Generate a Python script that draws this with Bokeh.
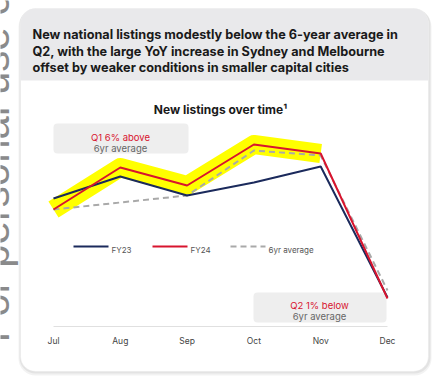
from bokeh.plotting import figure
from bokeh.models import Range1d, BoxAnnotation
from bokeh.embed import file_html
from bokeh.resources import INLINE
from bokeh.core.properties import value

# ---- data ----
months = ["Jul", "Aug", "Sep", "Oct", "Nov", "Dec"]
fy23 = [52.0, 57.5, 52.75, 56.0, 60.0, 27.25]
fy24 = [49.25, 59.75, 55.25, 65.5, 63.25, 27.0]
avg6 = [49.25, 51.0, 52.75, 64.0, 62.75, 29.0]
highlight_n = 5  # Jul..Nov of FY24 highlighted
series_names = ["FY23", "FY24", "6yr average"]
header_lines = [
    "New national listings modestly below the 6-year average in",
    "Q2, with the large YoY increase in Sydney and Melbourne",
    "offset by weaker conditions in smaller capital cities",
]
chart_title = "New listings over time\u00b9"
note_q1 = ["Q1 6% above", "6yr average"]
note_q2 = ["Q2 1% below", "6yr average"]
watermark = "For personal use only"

NAVY = "#1b2a5c"
RED = "#d8142e"
GREY = "#a9a9a9"
FONT = "Inter"

idx = list(range(len(months)))

W, H = 433, 378
p = figure(width=W, height=H, x_range=Range1d(0, W), y_range=Range1d(H, 0),
           output_backend="svg", toolbar_location=None, min_border=0,
           x_axis_location=None, y_axis_location=None, outline_line_color=None,
           background_fill_color="white", border_fill_color="white")
p.grid.visible = False
p.extra_x_ranges = {"m": Range1d(-53 / 66.8, 5 + 46 / 66.8)}
p.extra_y_ranges = {"v": Range1d(7, 101.5)}

# watermark (y on the non-inverted range so rotation is counter-clockwise)
p.text(x=[-6], y=[16.0], text=[watermark], angle=1.5708, y_range_name="v",
       text_font=value("Liberation Sans"),
       text_font_size="42px", text_color="#8a8a8a", text_align="left", text_baseline="alphabetic")

# card shadow + card
p.add_layout(BoxAnnotation(left=18, right=431, top=9, bottom=375, fill_color="#000000",
                           fill_alpha=0.05, line_color=None, border_radius=17, level="underlay"))
p.add_layout(BoxAnnotation(left=19, right=430, top=8, bottom=373, fill_color="#000000",
                           fill_alpha=0.06, line_color=None, border_radius=16, level="underlay"))
p.add_layout(BoxAnnotation(left=20, right=428, top=8, bottom=371, fill_color="white",
                           fill_alpha=1, line_color="#e2e2e2", line_width=1,
                           border_radius=15, level="underlay"))
p.add_layout(BoxAnnotation(left=20, right=428, top=8, bottom=80, fill_color="#e9e9eb",
                           fill_alpha=1, line_color=None,
                           border_radius=(15, 15, 0, 0), level="underlay"))

# header text
for i, t in enumerate(header_lines):
    p.text(x=[32], y=[34 + i * 16.7], text=[t], text_font=value(FONT), text_font_style="bold",
           text_font_size="12.7px", text_color="#1a1a1a", text_align="left",
           text_baseline="alphabetic")

# chart title
p.text(x=[220], y=[109], text=[chart_title], text_font=value(FONT), text_font_style="bold",
       text_font_size="12px", text_color="#1a1a1a", text_align="center",
       text_baseline="alphabetic")

# annotation boxes
p.add_layout(BoxAnnotation(left=53, right=188, top=123, bottom=153, fill_color="#eeeeee",
                           fill_alpha=1, line_color=None, border_radius=4, level="underlay"))
p.add_layout(BoxAnnotation(left=253, right=386, top=292, bottom=322, fill_color="#eeeeee",
                           fill_alpha=1, line_color=None, border_radius=4, level="underlay"))
for (cx, by, lines) in [(120, 137, note_q1), (319, 305, note_q2)]:
    p.text(x=[cx], y=[by], text=[lines[0]], text_font=value(FONT), text_font_size="9.5px",
           text_color=RED, text_align="center", text_baseline="alphabetic")
    p.text(x=[cx], y=[by + 11], text=[lines[1]], text_font=value(FONT), text_font_size="9.5px",
           text_color="#666666", text_align="center", text_baseline="alphabetic")

# axis baseline and tick labels
p.line(x=[idx[0], idx[-1]], y=[20, 20], x_range_name="m", y_range_name="v",
       line_color="#e0e0e0", line_width=1)
p.text(x=idx, y=[16.5] * len(idx), text=months, x_range_name="m", y_range_name="v",
       text_font=value(FONT), text_font_size="8.5px", text_color="#444444",
       text_align="center", text_baseline="alphabetic")

# highlight
p.line(x=idx[:highlight_n], y=fy24[:highlight_n], x_range_name="m", y_range_name="v",
       line_color="#ffff00", line_width=19, line_join="round", line_cap="butt")

# series
p.line(x=idx, y=avg6, x_range_name="m", y_range_name="v", line_color=GREY, line_width=2,
       line_dash="6 4")
p.line(x=idx, y=fy23, x_range_name="m", y_range_name="v", line_color=NAVY, line_width=2)
p.line(x=idx, y=fy24, x_range_name="m", y_range_name="v", line_color=RED, line_width=2)

# legend (manual)
leg = [(73, 108, NAVY, None, series_names[0]),
       (152, 187, RED, None, series_names[1]),
       (230, 265, GREY, "6 4", series_names[2])]
for (x0, x1, c, dash, name) in leg:
    if dash:
        p.line(x=[x0, x1], y=[246, 246], line_color=c, line_width=2, line_dash=dash)
    else:
        p.line(x=[x0, x1], y=[246, 246], line_color=c, line_width=2)
    p.text(x=[x1 + 3], y=[249], text=[name], text_font=value(FONT), text_font_size="8px",
           text_color="#555555", text_align="left", text_baseline="alphabetic")

open("out.html", "w").write(file_html(p, INLINE))
